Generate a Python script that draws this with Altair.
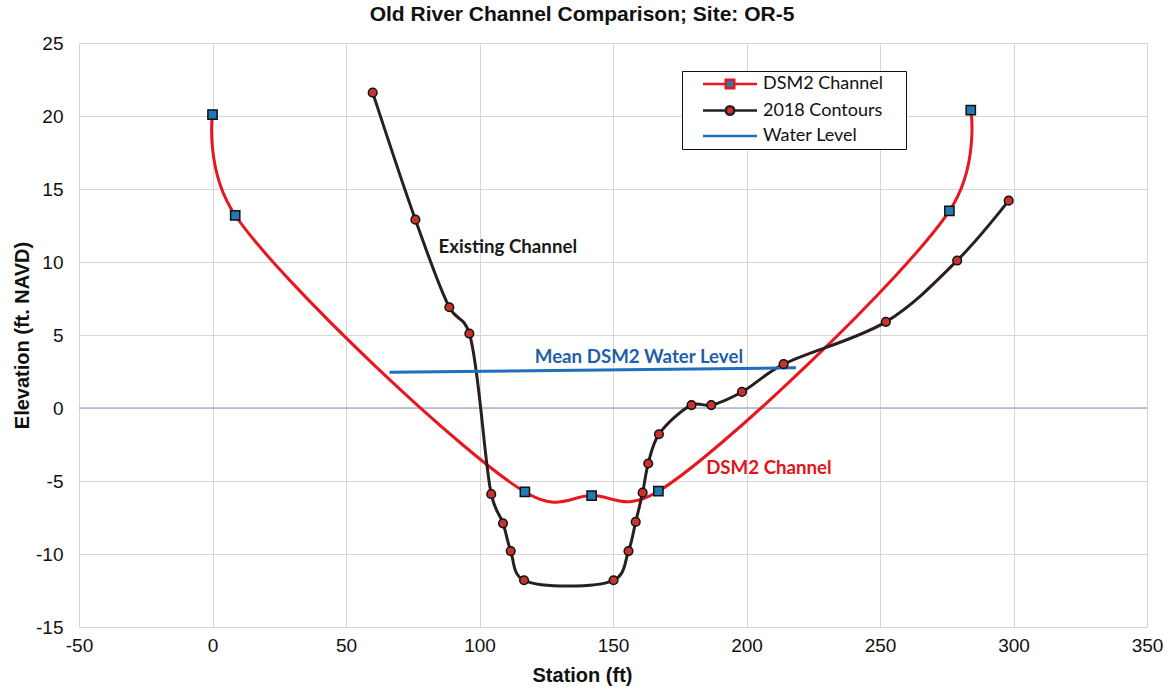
import altair as alt
import pandas as pd

# DSM2 model channel cross-section (square markers)
dsm2_station = [0, 8.5, 117, 142, 167, 276, 284]
dsm2_elev = [20.1, 13.2, -5.75, -6.0, -5.7, 13.5, 20.4]

# 2018 surveyed contours (round markers)
contour_station = [60, 76, 88.7, 96.2, 104.4, 108.8, 111.7, 116.7, 150.2, 155.8,
                   158.5, 161.1, 163.2, 167.2, 179.4, 186.8, 198.3, 213.9, 252.2,
                   278.9, 298.2]
contour_elev = [21.6, 12.9, 6.9, 5.1, -5.9, -7.9, -9.8, -11.8, -11.8, -9.8,
                -7.8, -5.8, -3.8, -1.8, 0.2, 0.2, 1.1, 3.0, 5.9,
                10.1, 14.2]

# Mean DSM2 water level
water_station = [66.3, 218.5]
water_elev = [2.45, 2.75]

series_names = ["DSM2 Channel", "2018 Contours", "Water Level"]
line_colors = ["#e8161d", "#2a1f1f", "#1f6fc0"]
marker_fills = ["#2379b5", "#c8322f", "transparent"]

note_text = ["Existing Channel", "Mean DSM2 Water Level", "DSM2 Channel"]
note_station = [110.6, 159.7, 208.4]
note_elev = [11.0, 3.5, -4.1]
note_color = ["#1a1a1a", "#1f5ea8", "#e4131b"]

x_ticks = [-50, 0, 50, 100, 150, 200, 250, 300, 350]
y_ticks = [-15, -10, -5, 0, 5, 10, 15, 20, 25]

# legend glyphs: a line with the series marker in the middle
legend_glyphs = [
    "M-5.4,0H-0.85M0.85,0H5.4M-0.85,-0.85H0.85V0.85H-0.85Z",
    "M-5.4,0H-0.85M0.85,0H5.4M-0.85,0A0.85,0.85,0,1,0,0.85,0A0.85,0.85,0,1,0,-0.85,0Z",
    "M-5.4,0H5.4",
]

AXIS_FONT = "Liberation Sans"
LABEL_FONT = "Lato"
# trailing gap after each legend label (kept from trimming by a zero-width end mark)
LABEL_TAIL = "\u00a0" * 4 + "\u200b"


def frame(name, xs, ys):
    return pd.DataFrame({"station": xs, "elev": ys, "series": name,
                         "idx": list(range(len(xs)))})


dsm2_df = frame("DSM2 Channel", dsm2_station, dsm2_elev)
contour_df = frame("2018 Contours", contour_station, contour_elev)
water_df = frame("Water Level", water_station, water_elev)
all_df = pd.concat([dsm2_df, contour_df, water_df], ignore_index=True)
note_df = pd.DataFrame({"station": note_station, "elev": note_elev,
                        "text": note_text, "color": note_color})

x_enc = alt.X("station:Q",
              scale=alt.Scale(domain=[-50, 350], nice=False, zero=False),
              axis=alt.Axis(values=x_ticks, grid=True, gridColor="#d6d6d6", gridWidth=1,
                            ticks=False, domain=False, labelFlush=False, labelOverlap=False,
                            labelExpr="'' + datum.value",
                            labelFont=AXIS_FONT, labelFontSize=19, labelColor="#111",
                            labelPadding=9,
                            title="Station (ft)", titleFont=AXIS_FONT, titleFontSize=20,
                            titleFontWeight="bold", titleColor="#111",
                            titleX=503, titleY=48, titleBaseline="middle"))
y_enc = alt.Y("elev:Q",
              scale=alt.Scale(domain=[-15, 25], nice=False, zero=False),
              axis=alt.Axis(values=y_ticks, grid=True, gridColor="#d6d6d6", gridWidth=1,
                            ticks=False, domain=False,
                            labelExpr="'' + datum.value",
                            labelFont=AXIS_FONT, labelFontSize=19, labelColor="#111",
                            labelPadding=16,
                            title="Elevation (ft. NAVD)", titleFont=AXIS_FONT, titleFontSize=20,
                            titleFontWeight="bold", titleColor="#111",
                            titleX=-57, titleY=292, titleAngle=270, titleBaseline="middle"))

legend = alt.Legend(title=None, orient="none", legendX=603, legendY=28,
                    padding=4, rowPadding=6.5,
                    strokeColor="#111", fillColor="white",
                    symbolSize=100, symbolStrokeWidth=2.5,
                    symbolOffset=35, labelOffset=24,
                    labelFont=LABEL_FONT, labelFontSize=18, labelColor="#111",
                    labelExpr="datum.label + '" + LABEL_TAIL + "'")

zero_line = alt.Chart(pd.DataFrame({"elev": [0]})).mark_rule(
    color="#a7b6c9", strokeWidth=1.5).encode(y=alt.Y("elev:Q"))


def curve(df, color):
    return alt.Chart(df).mark_line(interpolate="catmull-rom", tension=0.3, strokeWidth=3,
                                   color=color).encode(
        x=x_enc, y=y_enc, order="idx:Q")


dsm2_line = curve(dsm2_df, line_colors[0])
contour_line = curve(contour_df, line_colors[1])
water_line = alt.Chart(water_df).mark_line(strokeWidth=3, color=line_colors[2]).encode(
    x="station:Q", y="elev:Q")

dsm2_pts = alt.Chart(dsm2_df).mark_point(
    shape="square", filled=True, fill=marker_fills[0], stroke="#111",
    strokeWidth=1.5, size=85, opacity=1).encode(x="station:Q", y="elev:Q")
contour_pts = alt.Chart(contour_df).mark_point(
    shape="circle", filled=True, fill=marker_fills[1], stroke="#111",
    strokeWidth=1.5, size=75, opacity=1).encode(x="station:Q", y="elev:Q")

# legend carrier: no marks drawn, only the series key
key = alt.Chart(all_df).transform_filter("false").mark_point(opacity=1).encode(
    x="station:Q", y="elev:Q",
    stroke=alt.Stroke("series:N", scale=alt.Scale(domain=series_names, range=line_colors),
                      legend=legend),
    fill=alt.Fill("series:N", scale=alt.Scale(domain=series_names, range=marker_fills),
                  legend=legend),
    shape=alt.Shape("series:N", scale=alt.Scale(domain=series_names, range=legend_glyphs),
                    legend=legend),
)

notes = alt.Chart(note_df).mark_text(font=LABEL_FONT, fontWeight="bold", fontSize=18.7).encode(
    x="station:Q", y="elev:Q", text="text:N",
    color=alt.Color("color:N", scale=None),
)

chart = alt.layer(zero_line, dsm2_line, contour_line, water_line,
                  dsm2_pts, contour_pts, notes, key).properties(
    width=1068, height=584,
    title=alt.TitleParams("Old River Channel Comparison; Site: OR-5", font=AXIS_FONT,
                          fontSize=21, fontWeight="bold", color="#111", frame="group",
                          anchor="middle", dx=-31, dy=21, offset=13, baseline="alphabetic"),
    autosize=alt.AutoSizeParams(type="none"),
    padding={"left": 79, "top": 43, "right": 22, "bottom": 65},
).configure_view(stroke="#1a1a1a", strokeWidth=1.5).configure(background="white")

chart.save("out.html", embed_options={"renderer": "svg", "actions": False})
